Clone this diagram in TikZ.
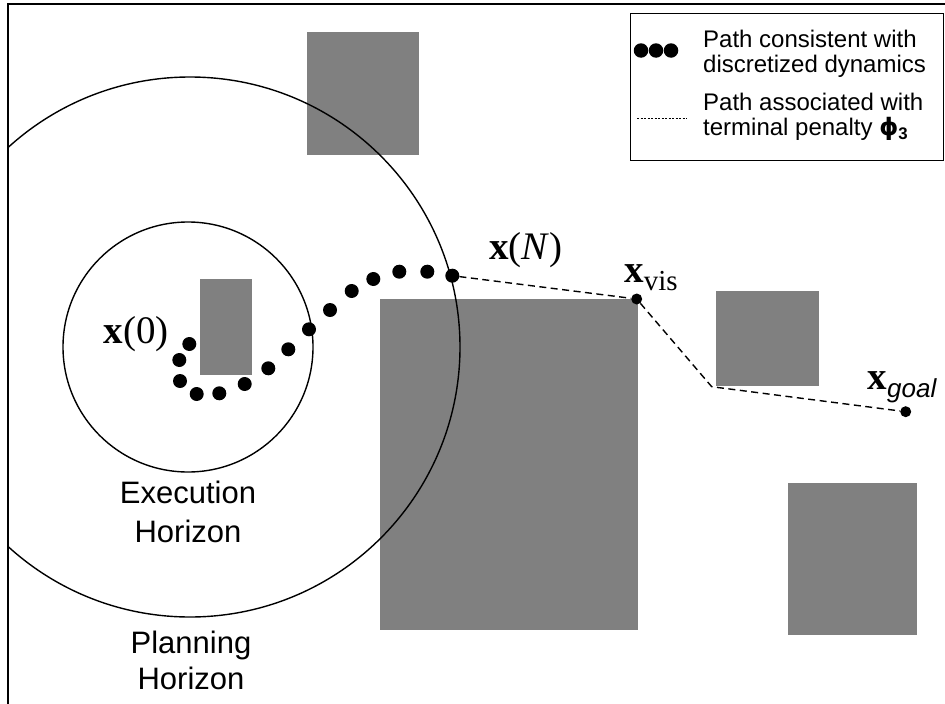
\documentclass[tikz,border=0pt]{standalone}
\usepackage{fontspec}
\newfontfamily\arial{Liberation Sans}
\newfontfamily\lblserif{Liberation Serif}
\newfontfamily\greekfont{DejaVu Sans}

\definecolor{obsgray}{RGB}{128,128,128}

\tikzset{
  obstacle/.style={fill=obsgray},
  horizon/.style={line width=1.4pt},
  dyndot/.style={circle, fill=black, inner sep=0pt, minimum size=14pt},
  wpdot/.style={circle, fill=black, inner sep=0pt, minimum size=11pt},
  penalty/.style={line width=1.4pt, dash pattern=on 7pt off 4.5pt},
  statelbl/.style={font=\lblserif\fontsize{39}{39}\selectfont, inner sep=0pt},
  caption/.style={font=\arial\fontsize{31}{39}\selectfont, align=center, inner sep=0pt, anchor=north},
  legtext/.style={font=\arial\fontsize{24}{25}\selectfont, align=left, anchor=north west, inner sep=0pt}
}
\newcommand{\sublbl}[1]{\raisebox{-8pt}{#1}}

\begin{document}
\begin{tikzpicture}[x=1pt, y=-1pt]
    \useasboundingbox (0,0) rectangle (945,704);

    % obstacles
    \fill[obstacle] (307,32) rectangle (419,155);
    \fill[obstacle] (200,279) rectangle (252,375);
    \fill[obstacle] (380,299) rectangle (638,630);
    \fill[obstacle] (716,291) rectangle (819,386);
    \fill[obstacle] (788,483) rectangle (917,635);

    % horizons, cut off by the frame
    \begin{scope}
        \clip (8,4) rectangle (945,704);
        \draw[horizon] (188,347) circle[radius=125pt];
        \draw[horizon] (190,347) circle[radius=270pt];
    \end{scope}
    \draw[line width=1.4pt] (8,704) -- (8,4) -- (945,4);

    % path from the dynamics
    \foreach \px/\py [count=\i] in {189.3/344, 179.3/360, 180/381, 196.7/394, 219.3/393.3,
            244.7/384, 268.3/368.3, 288.3/349.3, 309/329.3, 330/310, 351.7/291,
            373.3/279, 399.3/271.7, 427.3/271.7, 452.3/275.7}
        \node[dyndot] (d\i) at (\px,\py) {};

    % path for the terminal penalty
    \node[wpdot] (vis) at (636.7,299) {};
    \coordinate (turn) at (711.7,386.7);
    \node[wpdot] (goal) at (905.7,411.7) {};
    \draw[penalty] (d15) -- (vis) -- (turn) -- (goal);

    % labels
    \node[statelbl] (x0) at (136,334) {\textbf{x}(0)};
    \node[statelbl] (xN) at (526,250) {\textbf{x}(\textit{N})};
    \node[statelbl] (xvis) at (651,278) {\textbf{x}\sublbl{\fontsize{29}{29}\selectfont vis}};
    \node[statelbl] (xgoal) at (902,387) {\textbf{x}\sublbl{\arial\itshape\fontsize{26}{26}\selectfont goal}};
    \node[caption] (exec) at (188,481) {Execution\\Horizon};
    \node[caption, font=\arial\fontsize{31}{36}\selectfont] (plan) at (191,631) {Planning\\Horizon};

    % legend
    \draw[line width=1pt, fill=white] (630,13) rectangle (943,160);
    \foreach \lx [count=\j] in {641,656,671}
        \node[dyndot, minimum size=14.5pt] (ld\j) at (\lx,50.5) {};
    \coordinate (la) at (637,118);
    \coordinate (lb) at (687,118);
    \draw[line width=0.6pt, dash pattern=on 2pt off 1.5pt] (la) -- (lb);
    \node[legtext] (leg1) at (703,30) {Path consistent with\\discretized dynamics};
    \node[legtext] (leg2) at (703,93) {Path associated with\\terminal penalty {\greekfont\bfseries ϕ}{\bfseries\textsubscript{3}}};
\end{tikzpicture}
\end{document}
